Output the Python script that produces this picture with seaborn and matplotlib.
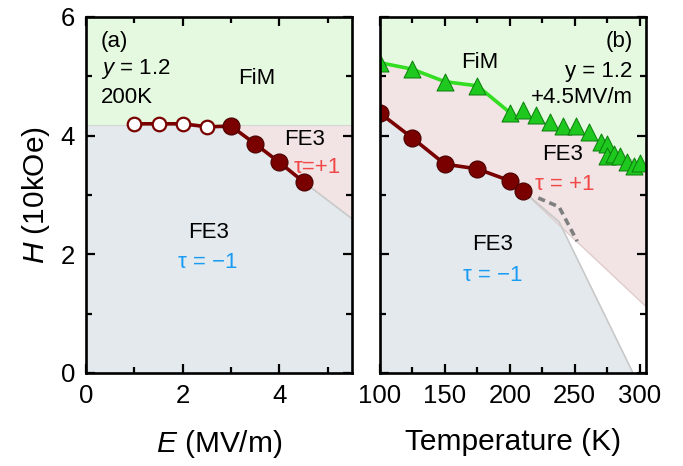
import numpy as np
import pandas as pd
import matplotlib
matplotlib.use("Agg")
import matplotlib.pyplot as plt
import seaborn as sns
from matplotlib.ticker import MultipleLocator

# ---------------- data ----------------
# panel (a): H vs E at 200 K
E_open = [1.0, 1.5, 2.0, 2.5]
H_open = [4.20, 4.20, 4.20, 4.15]
E_fill = [3.0, 3.5, 4.0, 4.5]
H_fill = [4.16, 3.86, 3.55, 3.22]

# panel (b): H vs T at +4.5 MV/m
T_circ = [100, 125, 150, 175, 200, 210]
H_circ = [4.38, 3.96, 3.52, 3.44, 3.24, 3.07]
T_tri = [100, 125, 150, 175, 200, 210, 220, 231, 241, 251, 261, 270, 275, 275,
         280, 285, 290, 296, 300]
H_tri = [5.23, 5.12, 4.91, 4.84, 4.39, 4.43, 4.35, 4.23, 4.17, 4.17, 4.06, 3.89,
         3.86, 3.66, 3.69, 3.66, 3.56, 3.49, 3.54]
n_tri_line = 5  # triangles joined by the green line

# phase boundaries
a_fim_H = 4.18
a_blue_E = [0.0, 3.0, 3.5, 4.0, 4.5, 5.5]
a_blue_H = [4.18, 4.16, 3.86, 3.55, 3.22, 2.60]

b_fim_T = [100, 125, 150, 175, 200, 250, 305]
b_fim_H = [5.23, 5.12, 4.91, 4.84, 4.39, 4.08, 3.47]
b_pink_T = [210, 305]
b_pink_H = [3.07, 1.12]
b_blue_T = [100, 125, 150, 175, 200, 210, 238, 295]
b_blue_H = [4.38, 3.96, 3.52, 3.44, 3.24, 3.07, 2.55, 0.0]
dash_T = [222, 238, 252]
dash_H = [2.95, 2.80, 2.22]

# ---------------- style ----------------
sns.set_theme(style="ticks")
plt.rcParams["font.family"] = ["Liberation Sans", "DejaVu Sans"]
plt.rcParams["mathtext.fontset"] = "custom"
plt.rcParams["mathtext.rm"] = "Liberation Sans"
plt.rcParams["mathtext.it"] = "Liberation Sans:italic"
for k in ("text.color", "axes.labelcolor", "xtick.color", "ytick.color",
          "axes.edgecolor"):
    plt.rcParams[k] = "black"

C_GREEN = "#e4f9df"
C_PINK = "#f2e4e4"
C_BLUE = "#e3e9ed"
C_EDGE = "#c9c9c9"
C_RED = "#7a0000"
C_TRI = "#1ec81e"
C_TRI_E = "#0b7d0b"
C_LINEG = "#33dd22"
C_TXT_R = "#f04848"
C_TXT_B = "#1a9cf5"

fig = plt.figure(figsize=(6.83, 4.66), dpi=100)
axA = fig.add_axes([86 / 683, 1 - 373 / 466, 266 / 683, 356 / 466])
axB = fig.add_axes([380 / 683, 1 - 373 / 466, 266 / 683, 356 / 466])

TICK_FS = 18.5
LAB_FS = 21.5
IN_FS = 16

for ax in (axA, axB):
    ax.set_ylim(0, 6)
    ax.yaxis.set_major_locator(MultipleLocator(2))
    ax.yaxis.set_minor_locator(MultipleLocator(1))
    ax.tick_params(which="both", direction="in", top=True, right=True,
                   width=1.6, labelsize=TICK_FS, color="black", pad=8)
    ax.tick_params(which="major", length=6.5)
    ax.tick_params(which="minor", length=4)
    for s in ax.spines.values():
        s.set_linewidth(1.9)
        s.set_color("black")
        s.set_zorder(10)

# ---------------- panel (a) ----------------
axA.set_xlim(0, 5.5)
axA.xaxis.set_major_locator(MultipleLocator(2))
axA.xaxis.set_minor_locator(MultipleLocator(1))
axA.fill_between([0, 5.5], [a_fim_H, a_fim_H], [6, 6], color=C_GREEN, lw=0, zorder=0)
axA.fill([a_blue_E[1], 5.5] + a_blue_E[::-1][:-1],
         [a_fim_H, a_fim_H] + a_blue_H[::-1][:-1],
         color=C_PINK, lw=0, zorder=0)
axA.fill([0] + a_blue_E + [5.5], [0] + a_blue_H + [0], color=C_BLUE, lw=0, zorder=0)
axA.plot([0, 5.5], [a_fim_H, a_fim_H], color="#d6d6d6", lw=0.8, zorder=1)
axA.plot(a_blue_E[-2:], a_blue_H[-2:], color=C_EDGE, lw=1.2, zorder=1)

dfA = pd.DataFrame({"E": E_open + E_fill, "H": H_open + H_fill})
sns.lineplot(data=dfA, x="E", y="H", ax=axA, color=C_RED, lw=2.6, zorder=3,
             estimator=None, sort=False)
sns.scatterplot(x=E_open, y=H_open, ax=axA, marker="o", s=95, facecolor="white",
                edgecolor=C_RED, linewidth=1.6, zorder=4)
sns.scatterplot(x=E_fill, y=H_fill, ax=axA, marker="o", s=150, color=C_RED,
                edgecolor="#4a0000", linewidth=0.8, zorder=4)

axA.text(0.31, 5.58, "(a)", fontsize=IN_FS, ha="left", va="center")
axA.text(0.31, 5.12, "$y$ = 1.2", fontsize=IN_FS, ha="left", va="center")
axA.text(0.31, 4.65, "200K", fontsize=IN_FS, ha="left", va="center")
axA.text(3.53, 4.97, "FiM", fontsize=IN_FS, ha="center", va="center")
axA.text(4.52, 3.93, "FE3", fontsize=IN_FS, ha="center", va="center")
axA.text(4.79, 3.46, "τ=+1", fontsize=IN_FS, ha="center", va="center", color=C_TXT_R)
axA.text(2.54, 2.36, "FE3", fontsize=IN_FS, ha="center", va="center")
axA.text(2.52, 1.87, "τ = −1", fontsize=IN_FS, ha="center", va="center", color=C_TXT_B)

axA.set_xlabel("$E$ (MV/m)", fontsize=LAB_FS, labelpad=14)
axA.set_ylabel("$H$ (10kOe)", fontsize=LAB_FS, labelpad=6)

# ---------------- panel (b) ----------------
axB.set_xlim(100, 305)
axB.xaxis.set_major_locator(MultipleLocator(50))
axB.xaxis.set_minor_locator(MultipleLocator(25))
axB.set_yticklabels([])
axB.set_ylabel("")

axB.fill_between(b_fim_T, b_fim_H, [6] * len(b_fim_T), color=C_GREEN, lw=0, zorder=0)
pk_x = b_fim_T + [b_pink_T[1], b_pink_T[0]] + b_blue_T[:6][::-1]
pk_y = b_fim_H + [b_pink_H[1], b_pink_H[0]] + b_blue_H[:6][::-1]
axB.fill(pk_x, pk_y, color=C_PINK, lw=0, zorder=0)
axB.fill([100] + b_blue_T, [0] + b_blue_H, color=C_BLUE, lw=0, zorder=0)
axB.plot(b_fim_T[4:], b_fim_H[4:], color="#d0d0d0", lw=1.0, zorder=1)
axB.plot(b_pink_T, b_pink_H, color="#e0cccc", lw=1.0, zorder=1)
axB.plot(b_blue_T[5:], b_blue_H[5:], color=C_EDGE, lw=1.2, zorder=1)
axB.plot(dash_T, dash_H, color="#7f7f7f", lw=2.6, ls=(0, (2.0, 1.3)), zorder=2)

sns.lineplot(x=T_tri[:n_tri_line], y=H_tri[:n_tri_line], ax=axB, color=C_LINEG,
             lw=2.6, zorder=3, estimator=None, sort=False)
sns.scatterplot(x=T_tri, y=H_tri, ax=axB, marker="^", s=150, color=C_TRI,
                edgecolor=C_TRI_E, linewidth=0.7, zorder=4)
sns.lineplot(x=T_circ, y=H_circ, ax=axB, color=C_RED, lw=2.6, zorder=3,
             estimator=None, sort=False)
sns.scatterplot(x=T_circ, y=H_circ, ax=axB, marker="o", s=150, color=C_RED,
                edgecolor="#4a0000", linewidth=0.8, zorder=4)

axB.text(294.5, 5.58, "(b)", fontsize=IN_FS, ha="right", va="center")
axB.text(294.5, 5.08, "y = 1.2", fontsize=IN_FS, ha="right", va="center")
axB.text(294.5, 4.64, "+4.5MV/m", fontsize=IN_FS, ha="right", va="center")
axB.text(177, 5.24, "FiM", fontsize=IN_FS, ha="center", va="center")
axB.text(241, 3.68, "FE3", fontsize=IN_FS, ha="center", va="center")
axB.text(242, 3.17, "τ = +1", fontsize=IN_FS, ha="center", va="center", color=C_TXT_R)
axB.text(187, 2.16, "FE3", fontsize=IN_FS, ha="center", va="center")
axB.text(187, 1.65, "τ = −1", fontsize=IN_FS, ha="center", va="center", color=C_TXT_B)

axB.set_xlabel("Temperature (K)", fontsize=LAB_FS, labelpad=14)

for ax in (axA, axB):
    ax.set_ylim(0, 6)

fig.savefig("out.png", dpi=100)
